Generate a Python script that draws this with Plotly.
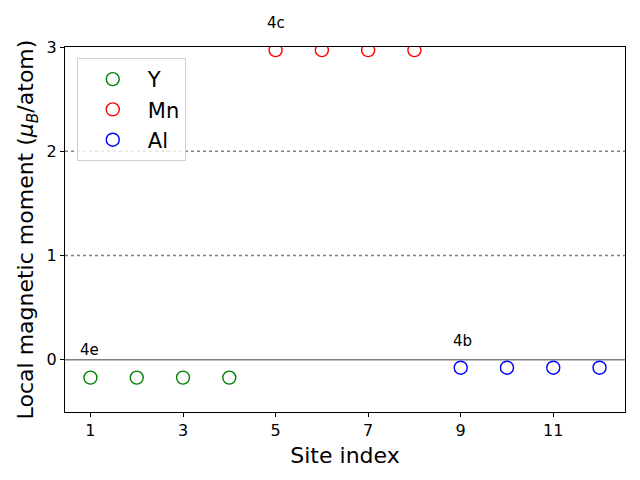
import plotly.graph_objects as go

sites_Y = [1, 2, 3, 4]
mom_Y = [-0.17, -0.17, -0.17, -0.17]
sites_Mn = [5, 6, 7, 8]
mom_Mn = [2.97, 2.97, 2.97, 2.97]
sites_Al = [9, 10, 11, 12]
mom_Al = [-0.075, -0.075, -0.075, -0.075]

series = [("Y", sites_Y, mom_Y, "green"), ("Mn", sites_Mn, mom_Mn, "red"), ("Al", sites_Al, mom_Al, "blue")]

labels = ["4e", "4c", "4b"]
label_x = [0.98, 5.0, 9.04]
label_y = [0.09, 3.23, 0.18]

xticks = [1, 3, 5, 7, 9, 11]
yticks = [0, 1, 2, 3]
YMIN, YMAX = -0.5, 3

FONT = "DejaVu Sans"
fig = go.Figure()
for name, xs, ys, col in series:
    fig.add_trace(go.Scatter(x=xs, y=ys, mode="markers", name=name,
                             marker=dict(symbol="circle-open", size=13, color=col, line=dict(width=1.4, color=col))))

for yv, dash in [(0, "solid"), (1, "dot"), (2, "dot")]:
    fig.add_shape(type="line", xref="paper", x0=0, x1=1, yref="y", y0=yv, y1=yv,
                  line=dict(color="gray", width=1.5, dash=dash), layer="below")

for t, xv, yv in zip(labels, label_x, label_y):
    fig.add_annotation(x=xv, y=(yv - YMIN) / (YMAX - YMIN), xref="x", yref="paper", text=t, showarrow=False,
                       font=dict(family=FONT, size=15, color="black"),
                       xanchor="center", yanchor="middle")

axis_common = dict(showline=True, linecolor="black", linewidth=1.2, mirror=True, ticks="outside",
                   ticklen=4, tickcolor="black", showgrid=False, zeroline=False,
                   tickfont=dict(family=FONT, size=16, color="black"))
fig.update_xaxes(range=[0.45, 12.55], tickvals=xticks, ticktext=[str(v) for v in xticks],
                 title=dict(text="Site index", font=dict(family=FONT, size=22, color="black"), standoff=8),
                 **axis_common)
fig.update_yaxes(range=[YMIN, YMAX], tickvals=yticks, ticktext=[str(v) for v in yticks],
                 title=dict(text="Local magnetic moment (<i>μ<sub>B</sub></i>/atom)",
                            font=dict(family=FONT, size=22, color="black"), standoff=6),
                 **axis_common)
fig.update_layout(width=640, height=480, margin=dict(l=65, r=15, t=47, b=68),
                  plot_bgcolor="white", paper_bgcolor="white", font=dict(family=FONT),
                  legend=dict(x=0.021, y=0.97, xanchor="left", yanchor="top",
                              bgcolor="rgba(255,255,255,0.8)", bordercolor="#d0d0d0", borderwidth=1,
                              font=dict(family=FONT, size=21, color="black"), itemwidth=60,
                              tracegroupgap=0))
fig.write_html("out.html")
